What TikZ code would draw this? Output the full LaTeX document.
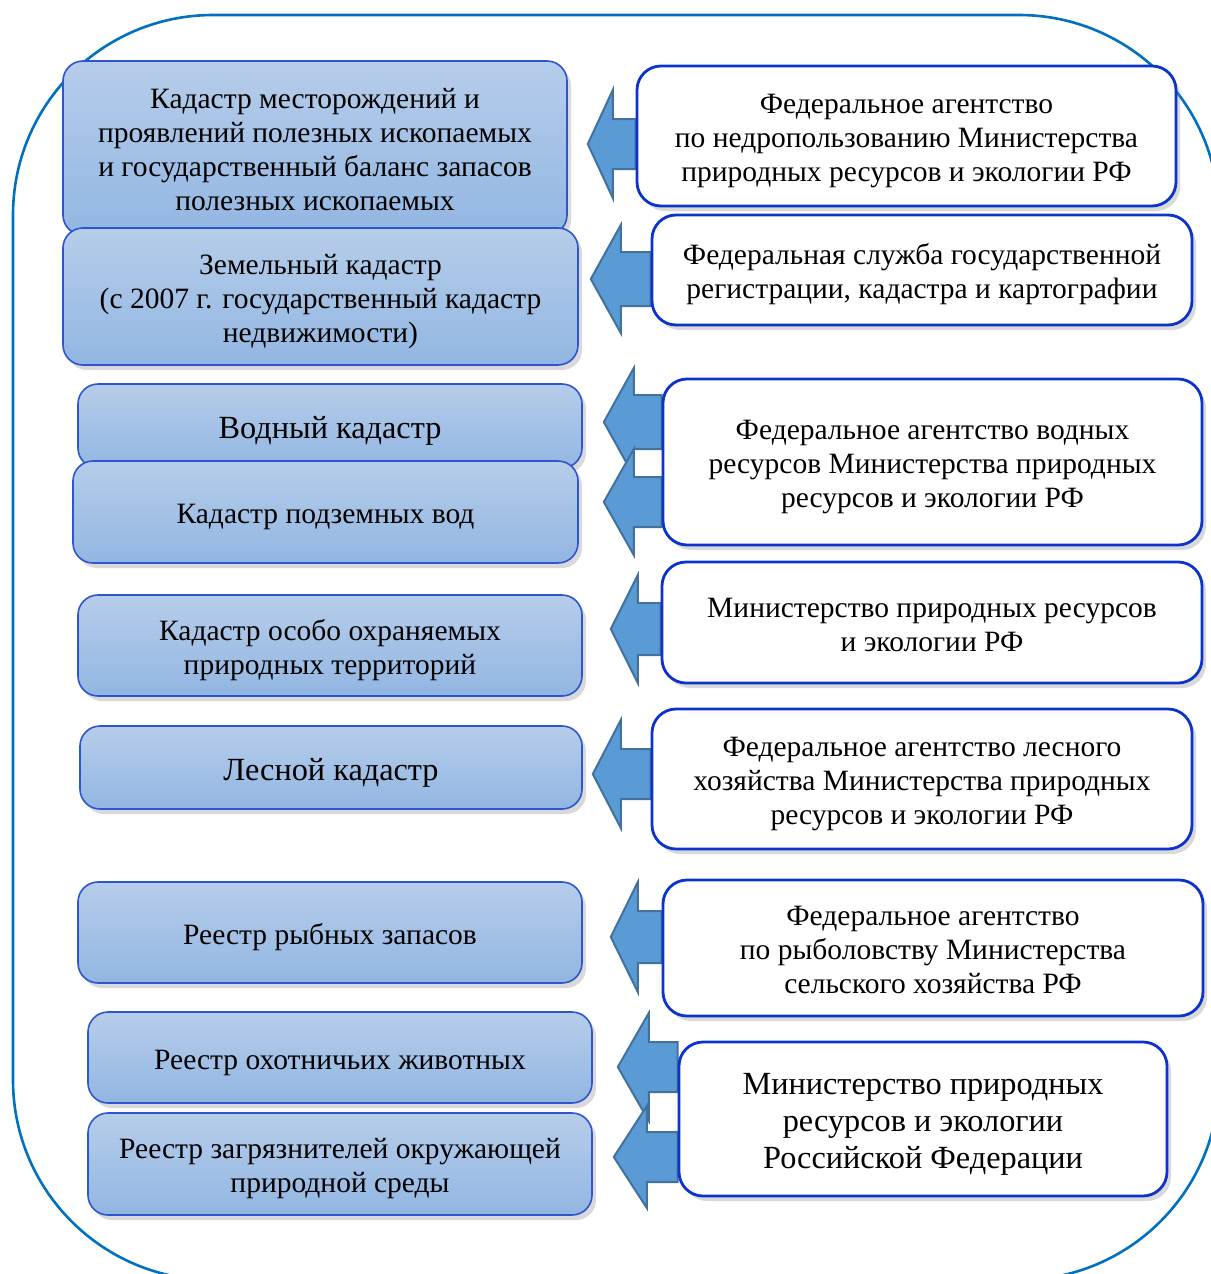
\documentclass[tikz,border=0pt]{standalone}
\usepackage{fontspec}
\setmainfont{Liberation Serif}
\usetikzlibrary{calc,shadows}

\definecolor{kadtop}{RGB}{182,205,234}
\definecolor{kadbot}{RGB}{146,182,226}
\definecolor{kadline}{RGB}{45,85,205}
\definecolor{orgline}{RGB}{12,52,205}
\definecolor{arrfill}{RGB}{91,155,213}
\definecolor{arrline}{RGB}{65,113,156}
\definecolor{frameline}{RGB}{0,112,192}

\pgfdeclarelayer{bg}
\pgfsetlayers{bg,main}

% ascent of the first line, descent of the last one
\newcommand\topstrut{\rule{0pt}{1em}}
\newcommand\botstrut{\rule[-0.22em]{0pt}{0.22em}}

\tikzset{
	kadastr/.style={draw=kadline, line width=0.8pt, rounded corners=10pt,
		top color=kadtop, bottom color=kadbot, align=flush center, inner sep=0pt,
		text width=248pt, font=\fontsize{14.75}{17}\selectfont,
		execute at begin node=\topstrut, execute at end node=\botstrut,
		drop shadow={shadow xshift=2pt, shadow yshift=-2.5pt, opacity=0.3}},
	organ/.style={draw=orgline, line width=1.4pt, rounded corners=12pt,
		fill=white, align=flush center, inner sep=0pt,
		text width=248pt, font=\fontsize{14.75}{17}\selectfont,
		execute at begin node=\topstrut, execute at end node=\botstrut,
		drop shadow={shadow xshift=2pt, shadow yshift=-2.5pt, opacity=0.3}},
	big/.style={font=\fontsize{16.15}{18.5}\selectfont},
	garrow/.style={fill=arrfill, draw=arrline, line width=1pt},
	frame/.style={draw=frameline, line width=1.3pt, rounded corners=100pt}
}

% from, to, y, gap, head length, half shaft, half head
\newcommand\govarrow[7]{%
	\coordinate (tip) at ($(#2.east |- 0,#3)+(#4,0)$);
	\draw[garrow] (#1.west |- 0,#3-#6) -| ($(tip)+(#5,-#7)$) -- (tip)
		-- ($(tip)+(#5,#7)$) |- (#1.west |- 0,#3+#6) -- cycle;}

\begin{document}
\begin{tikzpicture}[x=0.5pt, y=-0.5pt]
	\useasboundingbox (0,0) rectangle (1210,1274);
	\begin{pgfonlayer}{bg}
		\draw[frame] (13,15) rectangle (1219,1280);
	\end{pgfonlayer}

	% cadastres
	\node[kadastr, minimum width=252pt, minimum height=87pt] (kad1) at (315,148) {Кадастр месторождений и\\проявлений полезных ископаемых\\и государственный баланс запасов\\полезных ископаемых};
	\node[kadastr, minimum width=257.5pt, minimum height=68.5pt] (kad2) at (320.5,296.5) {Земельный кадастр\\(с 2007 г. государственный кадастр\\недвижимости)};
	\node[kadastr, big, minimum width=252pt, minimum height=42pt] (kad3) at (330,426) {Водный кадастр};
	\node[kadastr, minimum width=252.5pt, minimum height=51pt] (kad4) at (325.5,512) {Кадастр подземных вод};
	\node[kadastr, minimum width=252pt, minimum height=50.5pt] (kad5) at (330,645.5) {Кадастр особо охраняемых\\природных территорий};
	\node[kadastr, big, minimum width=251pt, minimum height=41.5pt] (kad6) at (331,767.5) {Лесной кадастр};
	\node[kadastr, minimum width=252pt, minimum height=50.5pt] (kad7) at (330,932.5) {Реестр рыбных запасов};
	\node[kadastr, minimum width=252pt, minimum height=45.5pt] (kad8) at (340,1057.5) {Реестр охотничьих животных};
	\node[kadastr, minimum width=252pt, minimum height=51pt] (kad9) at (340,1164) {Реестр загрязнителей окружающей\\природной среды};

	% agencies
	\node[organ, minimum width=269.5pt, minimum height=70pt] (org1) at (906.5,136) {Федеральное агентство\\по недропользованию Министерства\\природных ресурсов и экологии РФ};
	\node[organ, minimum width=270pt, minimum height=55pt] (org2) at (922,270) {Федеральная служба государственной\\регистрации, кадастра и картографии};
	\node[organ, minimum width=269.5pt, minimum height=83pt] (org3) at (932.5,462) {Федеральное агентство водных\\ресурсов Министерства природных\\ресурсов и экологии РФ};
	\node[organ, minimum width=270pt, minimum height=60.5pt] (org4) at (932,622.5) {Министерство природных ресурсов\\и экологии РФ};
	\node[organ, minimum width=270pt, minimum height=70pt] (org5) at (922,779) {Федеральное агентство лесного\\хозяйства Министерства природных\\ресурсов и экологии РФ};
	\node[organ, minimum width=270pt, minimum height=68pt] (org6) at (933,948) {Федеральное агентство\\по рыболовству Министерства\\сельского хозяйства РФ};
	\node[organ, big, text width=230pt, minimum width=244pt, minimum height=77pt] (org7) at (923,1119) {Министерство природных\\ресурсов и экологии\\Российской Федерации};

	% arrows
	\begin{pgfonlayer}{bg}
		\govarrow{org1}{kad1}{144}{20}{25}{25}{54}
		\govarrow{org2}{kad2}{279}{12}{30}{27}{54}
		\govarrow{org3}{kad3}{422}{21}{30}{27}{54}
		\govarrow{org3}{kad4}{502}{25}{30}{25}{53}
		\govarrow{org4}{kad5}{629}{28}{27}{26}{54}
		\govarrow{org5}{kad6}{774}{10}{28}{25}{54}
		\govarrow{org6}{kad7}{937}{28}{27}{26}{55}
		\govarrow{org7}{kad8}{1067}{25}{31}{25}{54}
		\govarrow{org7}{kad9}{1157}{21}{33}{25}{51}
	\end{pgfonlayer}
\end{tikzpicture}
\end{document}
